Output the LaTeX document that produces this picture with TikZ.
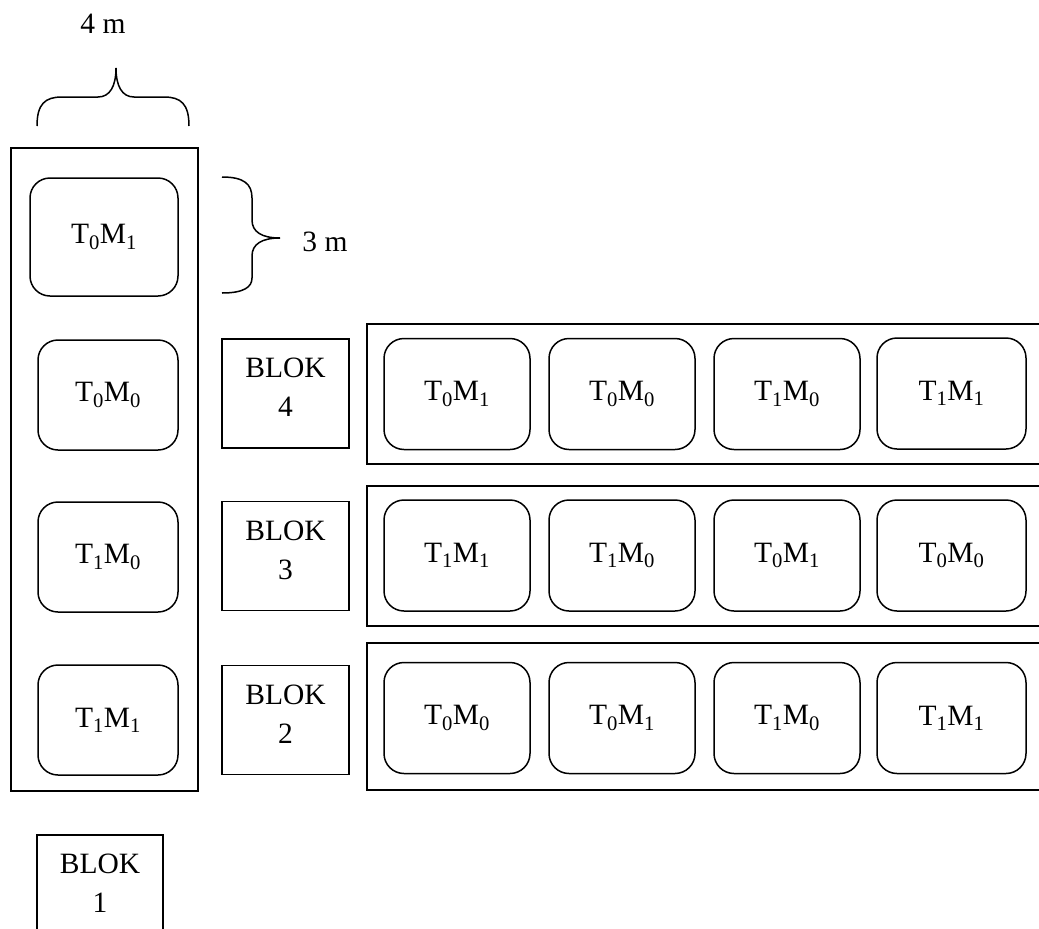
\documentclass[tikz,border=0pt]{standalone}
\usepackage{fontspec}
\setmainfont{Liberation Serif}
\begin{document}
\begin{tikzpicture}[x=1pt,y=-1pt,
  txt/.style={font=\fontsize{29.5}{39}\selectfont, inner sep=0pt, align=center},
  plot/.style={draw, line width=1.5pt, rounded corners=20pt, minimum width=146pt, minimum height=111pt, inner sep=0pt, font=\fontsize{29.5}{34}\selectfont},
  lplot/.style={plot, minimum width=140pt, minimum height=110pt},
  blok/.style={draw, line width=1.4pt, minimum width=127pt, minimum height=109pt, inner sep=0pt},
  frame/.style={draw, line width=2pt},
  brace/.style={draw, line width=1.5pt}]
\useasboundingbox (0,0) rectangle (1039,929);
\clip (0,0) rectangle (1039,929);
% left tall frame
\draw[frame] (11,148) rectangle (198,791);
% top brace
\draw[brace] (37,126) .. controls (37,104) and (45,97) .. (62,97) -- (98,97)
  .. controls (110,97) and (116,86) .. (116,68)
  .. controls (116,86) and (122,97) .. (134,97) -- (164,97)
  .. controls (181,97) and (189,104) .. (189,126);
\node[txt] (w) at (103,24) {4 m};
% right brace
\draw[brace] (222,177) .. controls (244,177) and (252,184) .. (252,198) -- (252,220)
  .. controls (252,232) and (262,238) .. (280,238)
  .. controls (262,238) and (252,244) .. (252,256) -- (252,278)
  .. controls (252,287) and (244,293) .. (222,293);
\node[txt] (h) at (325,242) {3 m};
% left column plots
\node[lplot, minimum width=148pt, minimum height=118pt] (l1) at (104,237) {T\textsubscript{0}M\textsubscript{1}};
\node[lplot] (l2) at (108,395) {T\textsubscript{0}M\textsubscript{0}};
\node[lplot] (l3) at (108,557) {T\textsubscript{1}M\textsubscript{0}};
\node[lplot] (l4) at (108,720) {T\textsubscript{1}M\textsubscript{1}};
% row frames
\draw[frame] (367,324) rectangle (1050,464);
\draw[frame] (367,486) rectangle (1050,626);
\draw[frame] (367,643) rectangle (1050,790);
% blok boxes
\node[blok] (b4) at (285.5,393.5) {};
\node[txt] (b4t) at ([yshift=6pt]b4.center) {BLOK\\4};
\node[blok] (b3) at (285.5,556) {};
\node[txt] (b3t) at ([yshift=6pt]b3.center) {BLOK\\3};
\node[blok] (b2) at (285.5,720) {};
\node[txt] (b2t) at ([yshift=6pt]b2.center) {BLOK\\2};
\node[blok, minimum width=126pt, minimum height=110pt] (b1) at (100,890) {};
\node[txt] (b1t) at (100,883) {BLOK\\1};
% row 4
\node[plot] (r41) at (457,394) {T\textsubscript{0}M\textsubscript{1}};
\node[plot] (r42) at (622,394) {T\textsubscript{0}M\textsubscript{0}};
\node[plot] (r43) at (787,394) {T\textsubscript{1}M\textsubscript{0}};
\node[plot, minimum width=149pt] (r44) at (951.5,393.5) {T\textsubscript{1}M\textsubscript{1}};
% row 3
\node[plot] (r31) at (457,555.5) {T\textsubscript{1}M\textsubscript{1}};
\node[plot] (r32) at (622,555.5) {T\textsubscript{1}M\textsubscript{0}};
\node[plot] (r33) at (787,555.5) {T\textsubscript{0}M\textsubscript{1}};
\node[plot, minimum width=149pt] (r34) at (951.5,555.5) {T\textsubscript{0}M\textsubscript{0}};
% row 2
\node[plot] (r21) at (457,718) {T\textsubscript{0}M\textsubscript{0}};
\node[plot] (r22) at (622,718) {T\textsubscript{0}M\textsubscript{1}};
\node[plot] (r23) at (787,718) {T\textsubscript{1}M\textsubscript{0}};
\node[plot, minimum width=149pt] (r24) at (951.5,718) {T\textsubscript{1}M\textsubscript{1}};
\end{tikzpicture}
\end{document}
